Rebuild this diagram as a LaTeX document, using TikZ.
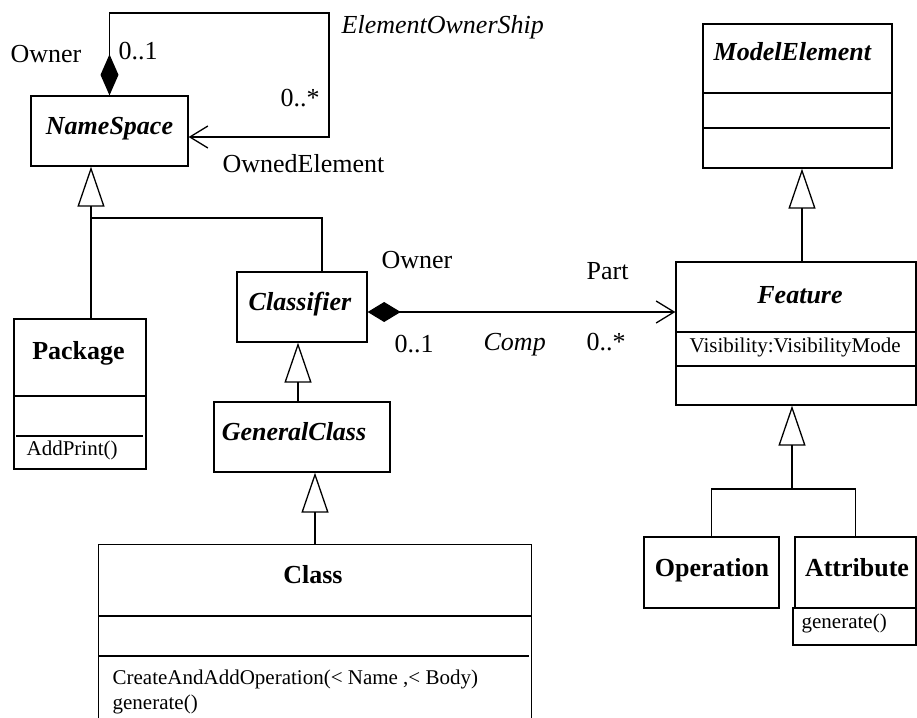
\documentclass[tikz,border=0pt]{standalone}
\usepackage{fontspec}
\setmainfont{Liberation Serif}
\usetikzlibrary{arrows.meta,fit}
\begin{document}
\begin{tikzpicture}[x=0.5pt,y=-0.5pt,line width=0.65pt,
  box/.style={draw,rectangle,inner sep=0pt},
  frame/.style={rectangle,inner sep=0pt},
  big/.style={font=\fontsize{13}{15}\selectfont,inner sep=0pt},
  title/.style={font=\fontsize{13}{15}\selectfont\bfseries,inner sep=0pt,anchor=base},
  abstitle/.style={font=\fontsize{13}{15}\selectfont\bfseries\itshape,inner sep=0pt,anchor=base},
  small/.style={font=\fontsize{10.5}{12}\selectfont,inner sep=0pt,anchor=base west},
  lbl/.style={big,anchor=base west},
  gen/.style={-{Triangle[open,length=20pt,width=13.5pt,line width=0.65pt]}},
  comp/.style={{Diamond[length=16.5pt,width=10pt]}-{Straight Barb[length=9pt,width=11pt,line width=0.65pt]}},
  own/.style={{Diamond[length=20.5pt,width=9pt]}-{Straight Barb[length=9pt,width=11pt,line width=0.65pt]}}]
\useasboundingbox (0,0) rectangle (917,718);

% class boxes
\node[box,fit={(31,96) (188,166)}] (ns) {};
\node[box,fit={(14,319) (146,469)}] (pk) {};
\node[box,fit={(237,272) (367,342)}] (cl) {};
\node[box,fit={(214,402) (390,472)}] (gc) {};
\node[frame,fit={(99,545) (531,718)}] (cls) {};
\draw (cls.south west) |- (cls.north east) -- (cls.south east);
\node[box,fit={(703,24) (892,168)}] (me) {};
\node[box,fit={(676,262) (916,405)}] (ft) {};
\node[box,fit={(644,537) (779,608)}] (op) {};
\node[box,fit={(795,537) (916,608)}] (at) {};
\node[box,fit={(793,608) (916,645)}] (atops) {};

% compartments
\draw (14,396) -- (146,396);
\draw (16,436) -- (143,436);
\draw (99,616) -- (531,616);
\draw (99,656) -- (529,656);
\draw (703,93) -- (892,93);
\draw (703,128) -- (890,128);
\draw (676,332) -- (916,332);
\draw (676,366) -- (916,366);

% class names and members
\node[abstitle] (nsT) at (109.5,134) {NameSpace};
\node[title] (pkT) at (78.5,359) {Package};
\node[small] (pkOp) at (26,455) {AddPrint()};
\node[abstitle] (clT) at (300,310) {Classifier};
\node[abstitle] (gcT) at (294,440) {GeneralClass};
\node[title] (clsT) at (313,583) {Class};
\node[small] (clsOp1) at (112,684) {CreateAndAddOperation(< Name ,< Body)};
\node[small] (clsOp2) at (112,709) {generate()};
\node[abstitle,anchor=base west] (meT) at (713,60) {ModelElement};
\node[abstitle] (ftT) at (800,303) {Feature};
\node[small] (ftAt) at (689,352) {Visibility:VisibilityMode};
\node[title] (opT) at (712,576) {Operation};
\node[title] (atT) at (857,576) {Attribute};
\node[small] (atOp) at (801,628) {generate()};

% junction points
\coordinate (nsj) at (91,218);
\coordinate (clj) at (322,218);
\coordinate (fx) at (802,0);
\coordinate (fj) at (792,489);
\coordinate (cy) at (0,312);
\coordinate (lp) at (329,13);

% generalizations
\draw[gen] (pk.north -| nsj) -- (ns.south -| nsj);
\draw (cl.north -| clj) -- (clj) -- (nsj);
\draw[gen] ([xshift=-2pt]cl.south |- gc.north) -- ([xshift=-2pt]cl.south);
\draw[gen] (cls.north) -- (cls.north |- gc.south);
\draw[gen] (ft.north -| fx) -- (me.south -| fx);
\draw (op.north) |- (fj) -| (at.north);
\draw[gen] (fj) -- (fj |- ft.south);

% compositions
\draw[own] (ns.north) |- (lp) |- ([yshift=-3pt]ns.east);
\draw[comp] (cl.east |- cy) -- (ft.west |- cy);

% association labels
\node[lbl] (o1) at (10,62) {Owner};
\node[lbl] (m1) at (118,59) {0..1};
\node[lbl,font=\fontsize{13}{15}\selectfont\itshape] (eos) at (341,33) {ElementOwnerShip};
\node[lbl] (m2) at (280,106) {0..*};
\node[lbl] (oe) at (222,172) {OwnedElement};
\node[lbl] (o2) at (381,268) {Owner};
\node[lbl] (pt) at (586,279) {Part};
\node[lbl] (m3) at (394,352) {0..1};
\node[lbl,font=\fontsize{13}{15}\selectfont\itshape] (cp) at (483,350) {Comp};
\node[lbl] (m4) at (586,350) {0..*};
\end{tikzpicture}
\end{document}
